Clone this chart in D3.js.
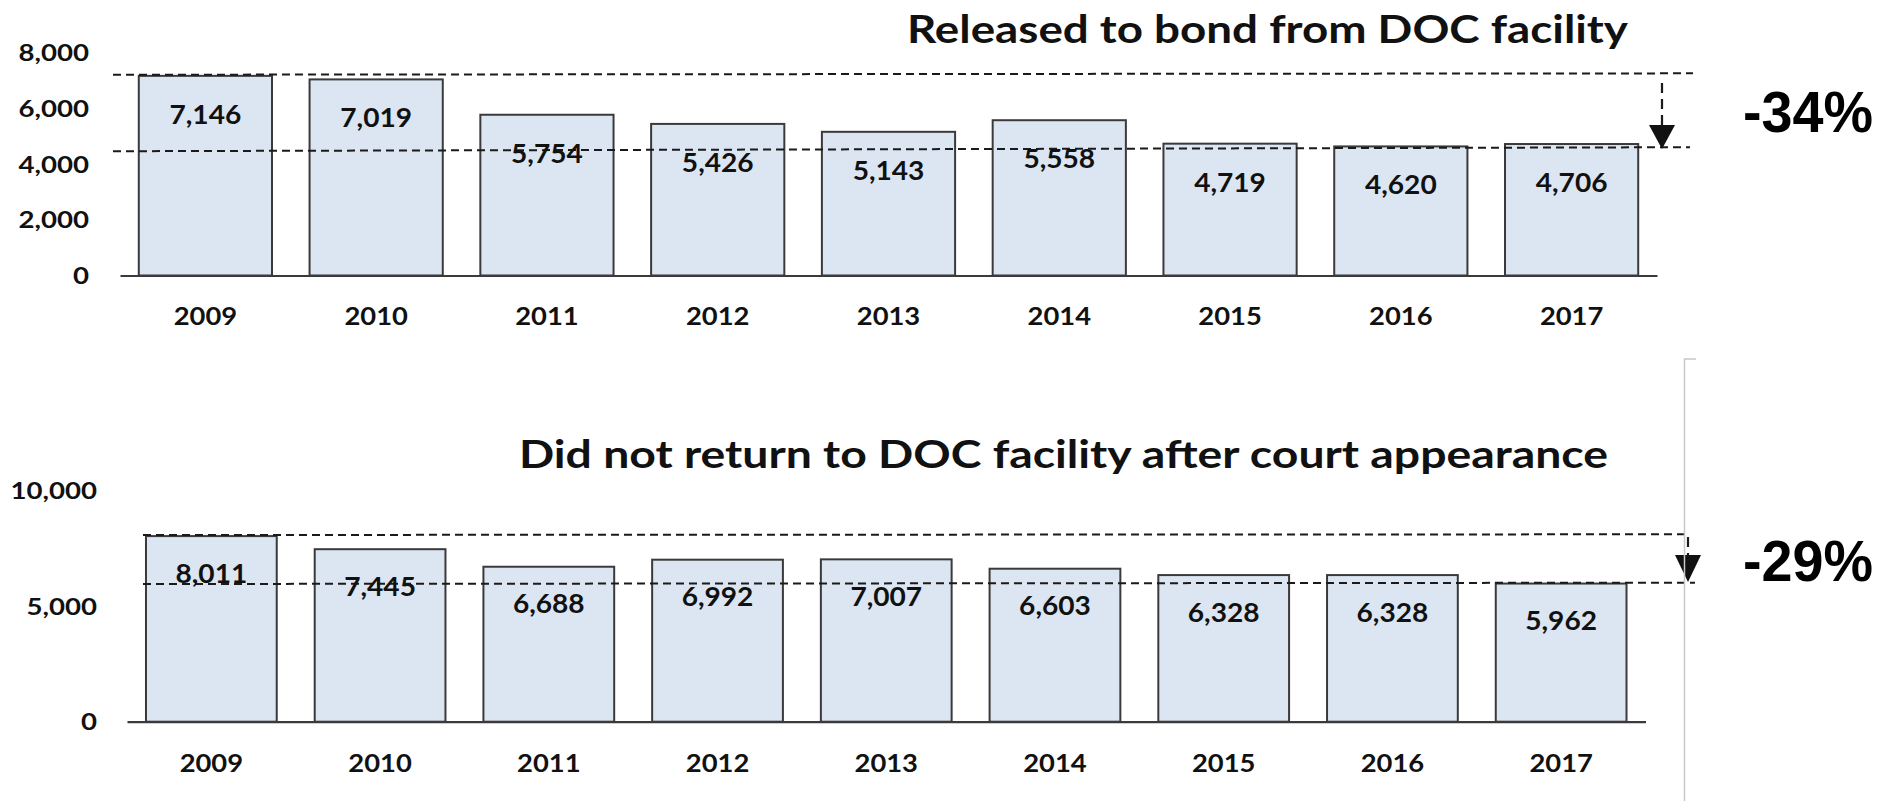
<!DOCTYPE html>
<html>
<head>
<meta charset="utf-8">
<script src="https://cdn.jsdelivr.net/npm/d3@7"></script>
<style>
  html, body { margin: 0; padding: 0; background: #ffffff; }
  svg { display: block; }
  text { font-family: Lato, "Open Sans", sans-serif; font-weight: 700; fill: #111; }
  text.pct { font-family: "Liberation Sans", Arial, sans-serif; font-weight: 700; fill: #000; }
</style>
</head>
<body>
<svg id="chart" width="1894" height="801"></svg>
<script>
// ---------------- data ----------------
const years = ["2009", "2010", "2011", "2012", "2013", "2014", "2015", "2016", "2017"];
const releasedValues = [7146, 7019, 5754, 5426, 5143, 5558, 4719, 4620, 4706];
const notReturnedValues = [8011, 7445, 6688, 6992, 7007, 6603, 6328, 6328, 5962];
const releasedTicks = [0, 2000, 4000, 6000, 8000];
const notReturnedTicks = [0, 5000, 10000];
const panelTitles = ["Released to bond from DOC facility", "Did not return to DOC facility after court appearance"];
const changeLabels = ["-34%", "-29%"];
// reference (dashed) lines, value at left end / right end
const releasedRefLines = [[7186, 7236], [4448, 4592]];
const notReturnedRefLines = [[8058, 8088], [5943, 5999]];

// ---------------- drawing ----------------
const svg = d3.select("#chart");
const fmt = d3.format(",");

function stretch(sel, k) {
  sel.each(function () {
    const len = this.getComputedTextLength();
    d3.select(this).attr("textLength", len * k).attr("lengthAdjust", "spacingAndGlyphs");
  });
}

function drawPanel(cfg) {
  const g = svg.append("g");
  const x = d3.scaleBand().domain(years).range(cfg.xRange)
    .paddingInner(cfg.pad).paddingOuter(cfg.pad / 2);
  const y = d3.scaleLinear().domain([0, cfg.ticks[cfg.ticks.length - 1]]).range(cfg.yRange);

  // bars
  g.selectAll("rect.bar").data(cfg.values).join("rect")
    .attr("class", "bar")
    .attr("x", (d, i) => x(years[i]))
    .attr("width", x.bandwidth())
    .attr("y", d => y(d))
    .attr("height", d => y(0) - y(d))
    .attr("fill", "#dce6f2")
    .attr("stroke", "#3a3a3a").attr("stroke-width", 2);

  // dashed reference lines (drawn over the bars)
  g.selectAll("line.ref").data(cfg.refLines).join("line")
    .attr("class", "ref")
    .attr("x1", cfg.refX[0]).attr("x2", (d, i) => cfg.refX[1 + i])
    .attr("y1", d => y(d[0])).attr("y2", d => y(d[1]))
    .attr("stroke", "#1a1a1a").attr("stroke-width", 2).attr("stroke-dasharray", "8,5");

  // value labels
  const vl = g.selectAll("text.val").data(cfg.values).join("text")
    .attr("class", "val")
    .attr("x", (d, i) => x(years[i]) + x.bandwidth() / 2)
    .attr("y", d => y(d) + cfg.labelOffset)
    .attr("text-anchor", "middle")
    .attr("font-size", 26)
    .text(d => fmt(d));
  stretch(vl, 1.08);

  // x axis
  const xa = g.append("g").attr("transform", `translate(0,${y(0)})`)
    .call(d3.axisBottom(x).tickSize(0).tickSizeOuter(0));
  xa.select(".domain").attr("stroke", "#3a3a3a").attr("stroke-width", 2.2);
  xa.selectAll("text")
    .attr("font-size", 24).attr("font-family", null)
    .attr("dy", 0).attr("y", cfg.xLabelBaseline);
  stretch(xa.selectAll("text"), 1.14);

  // y axis
  const ya = g.append("g").attr("transform", `translate(${cfg.yLabelRight},0)`)
    .call(d3.axisLeft(y).tickValues(cfg.ticks).tickSize(0).tickPadding(0).tickFormat(fmt));
  ya.select(".domain").remove();
  ya.selectAll("text")
    .attr("font-size", 23).attr("dy", "0.36em");
  stretch(ya.selectAll("text"), 1.2);

  // title
  g.append("text")
    .attr("x", cfg.titleX[0]).attr("y", cfg.titleBaseline)
    .attr("font-size", 39)
    .attr("textLength", cfg.titleX[1] - cfg.titleX[0])
    .attr("lengthAdjust", "spacingAndGlyphs")
    .text(cfg.title);

  // arrow
  const a = cfg.arrow;
  g.append("line")
    .attr("x1", a.x).attr("x2", a.x).attr("y1", a.y0).attr("y2", a.y1)
    .attr("stroke", "#1a1a1a").attr("stroke-width", 2.2).attr("stroke-dasharray", "10,6");
  g.append("path")
    .attr("d", `M${a.x - 13},${a.y1} L${a.x + 13},${a.y1} L${a.x},${a.tip} Z`)
    .attr("fill", "#111");

  // percent change
  g.append("text")
    .attr("class", "pct")
    .attr("x", cfg.pctX[0]).attr("y", cfg.pctBaseline)
    .attr("font-size", 58)
    .attr("textLength", cfg.pctX[1] - cfg.pctX[0])
    .attr("lengthAdjust", "spacingAndGlyphs")
    .text(cfg.pct);
}

drawPanel({
  values: releasedValues, ticks: releasedTicks,
  xRange: [120, 1657], yRange: [275.5, 52], pad: 0.22,
  refLines: releasedRefLines, refX: [113, 1693, 1690],
  labelOffset: 48, xLabelBaseline: 49.5, yLabelRight: 89,
  title: panelTitles[0], titleX: [907, 1628], titleBaseline: 43,
  arrow: { x: 1662, y0: 83, y1: 125, tip: 149 },
  pct: changeLabels[0], pctX: [1743, 1873], pctBaseline: 132
});

drawPanel({
  values: notReturnedValues, ticks: notReturnedTicks,
  xRange: [127, 1645.5], yRange: [721.7, 490], pad: 0.225,
  refLines: notReturnedRefLines, refX: [143, 1690, 1695],
  labelOffset: 46.5, xLabelBaseline: 50.5, yLabelRight: 97,
  title: panelTitles[1], titleX: [519, 1608], titleBaseline: 468,
  arrow: { x: 1688, y0: 537, y1: 555, tip: 582 },
  pct: changeLabels[1], pctX: [1743, 1873], pctBaseline: 581
});

// thin gray frame line at right of lower panel
svg.append("path")
  .attr("d", "M1696,359 L1684.5,359 L1684.5,801")
  .attr("fill", "none").attr("stroke", "#c8c8c8").attr("stroke-width", 1.5);
</script>
</body>
</html>
